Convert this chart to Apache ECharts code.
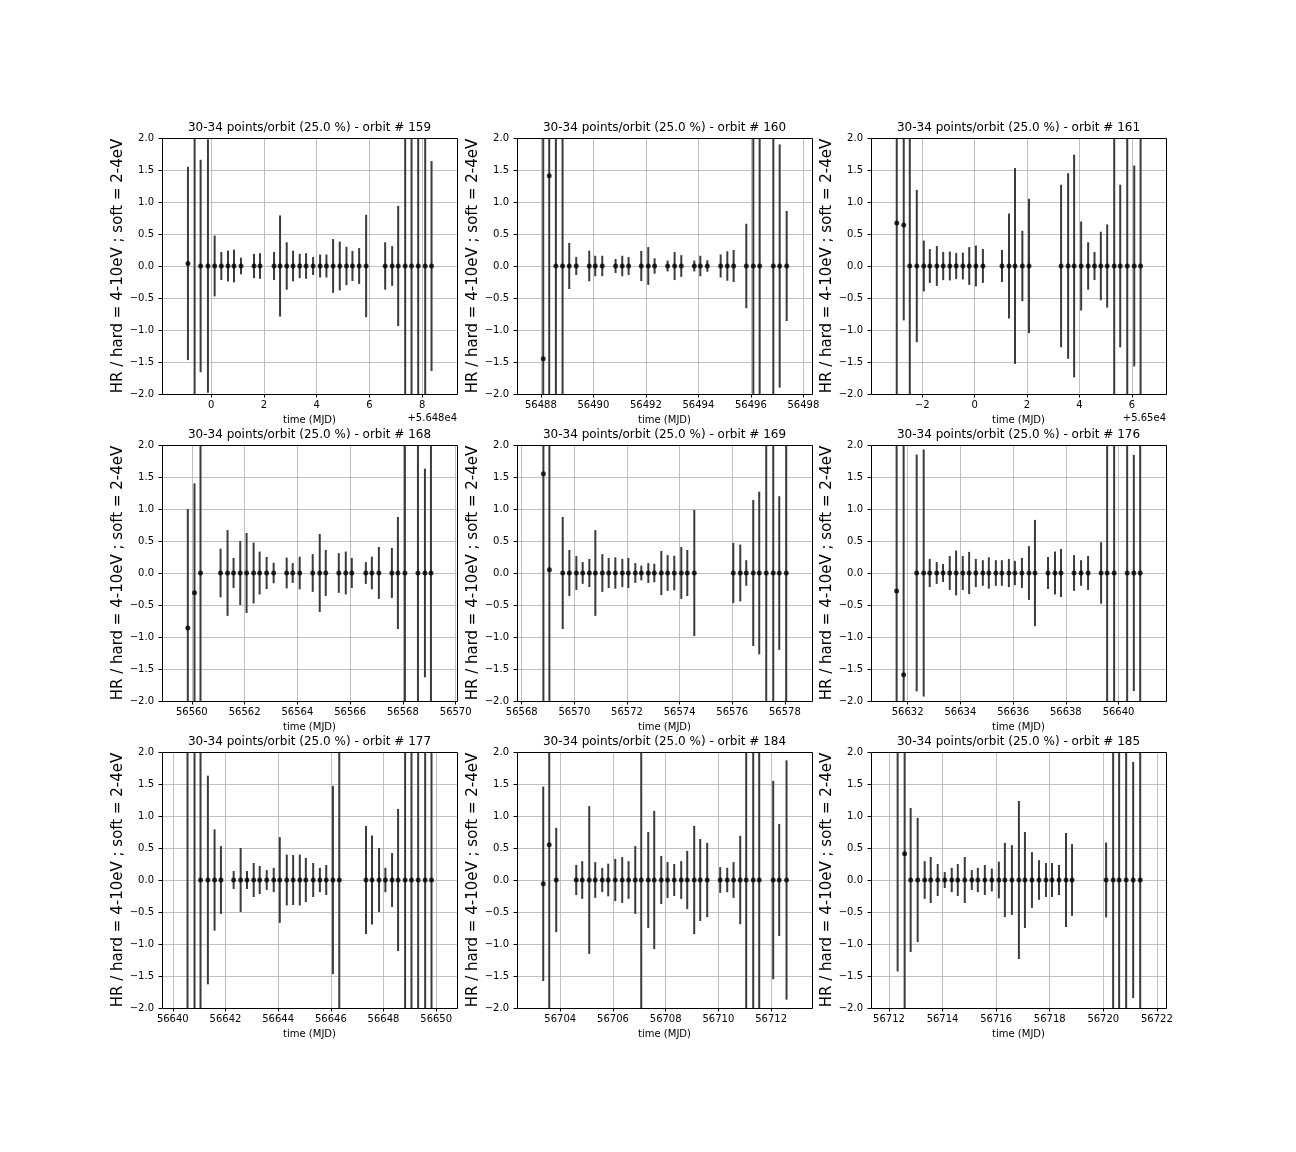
<!DOCTYPE html>
<html lang="en">

<head>
    <meta charset="UTF-8">
    <title>HR per orbit</title>
    <script src="https://cdn.jsdelivr.net/npm/echarts@6/dist/echarts.min.js"></script>
    <style>
        body,
        html {
            padding: 0;
            margin: 0;
            background: #fff;
        }

        #chart-panel {
            width: 1296px;
            height: 1152px;
        }
    </style>
</head>

<body>
    <div id="chart-panel"></div>
    <script>
        // orbits shown, one panel each
        var orbits = [159, 160, 161, 168, 169, 176, 177, 184, 185];

        var time159 = [56479.114, 56479.367, 56479.595, 56479.873, 56480.127, 56480.380, 56480.633, 56480.861, 56481.127, 56481.620, 56481.848, 56482.380, 56482.608, 56482.861, 56483.101, 56483.354, 56483.595, 56483.861, 56484.127, 56484.367, 56484.620, 56484.873, 56485.127, 56485.354, 56485.608, 56485.873, 56486.595, 56486.861, 56487.089, 56487.354, 56487.595, 56487.848, 56488.114, 56488.354];
        var hr159 = [0.04, 2.5, 0, 0, 0, 0, 0, 0, 0, 0, 0, 0, 0, 0, 0, 0, 0, 0, 0, 0, 0, 0, 0, 0, 0, 0, 0, 0, 0, 0, 0, 0, 0, 0];
        var err159 = [1.51, 4.8, 1.66, 1.98, 0.475, 0.22, 0.24, 0.255, 0.13, 0.19, 0.2, 0.22, 0.79, 0.37, 0.24, 0.19, 0.2, 0.14, 0.18, 0.18, 0.42, 0.38, 0.3, 0.235, 0.28, 0.8, 0.37, 0.31, 0.94, 2.6, 2.6, 2.6, 2.6, 1.64];

        var time160 = [56488.089, 56488.318, 56488.572, 56488.826, 56489.080, 56489.347, 56489.842, 56490.071, 56490.338, 56490.846, 56491.100, 56491.342, 56491.825, 56492.091, 56492.333, 56492.828, 56493.095, 56493.349, 56493.845, 56494.074, 56494.341, 56494.849, 56495.103, 56495.344, 56495.827, 56496.094, 56496.336, 56496.856, 56497.098, 56497.365];
        var hr160 = [-1.45, 1.41, 0, 0, 0, 0, 0, 0, 0, 0, 0, 0, 0, 0, 0, 0, 0, 0, 0, 0, 0, 0, 0, 0, 0, 0, 0, 0, 0, 0];
        var err160 = [3.6, 3.6, 2.6, 2.6, 0.36, 0.14, 0.24, 0.16, 0.16, 0.11, 0.16, 0.14, 0.235, 0.295, 0.12, 0.085, 0.22, 0.17, 0.085, 0.16, 0.09, 0.18, 0.23, 0.25, 0.66, 2.6, 2.6, 2.6, 1.9, 0.86];

        var time161 = [56497.032, 56497.299, 56497.529, 56497.796, 56498.064, 56498.293, 56498.561, 56498.803, 56499.057, 56499.299, 56499.554, 56499.796, 56500.051, 56500.318, 56501.045, 56501.312, 56501.541, 56501.822, 56502.076, 56503.299, 56503.567, 56503.796, 56504.064, 56504.331, 56504.573, 56504.815, 56505.057, 56505.325, 56505.554, 56505.822, 56506.089, 56506.331];
        var hr161 = [0.67, 0.64, 0, 0, 0, 0, 0, 0, 0, 0, 0, 0, 0, 0, 0, 0, 0, 0, 0, 0, 0, 0, 0, 0, 0, 0, 0, 0, 0, 0, 0, 0];
        var err161 = [2.9, 1.49, 2.6, 1.19, 0.397, 0.265, 0.31, 0.22, 0.225, 0.205, 0.21, 0.295, 0.32, 0.265, 0.25, 0.82, 1.53, 0.55, 1.05, 1.27, 1.45, 1.74, 0.695, 0.37, 0.22, 0.535, 0.65, 2.6, 1.27, 2.6, 1.57, 2.6];

        var time168 = [56559.848, 56560.101, 56560.329, 56561.089, 56561.354, 56561.582, 56561.835, 56562.076, 56562.342, 56562.570, 56562.835, 56563.101, 56563.595, 56563.823, 56564.089, 56564.582, 56564.848, 56565.076, 56565.570, 56565.835, 56566.063, 56566.595, 56566.823, 56567.089, 56567.582, 56567.810, 56568.076, 56568.570, 56568.835, 56569.063];
        var hr168 = [-0.86, -0.31, 0, 0, 0, 0, 0, 0, 0, 0, 0, 0, 0, 0, 0, 0, 0, 0, 0, 0, 0, 0, 0, 0, 0, 0, 0, 0, 0, 0];
        var err168 = [1.86, 1.71, 2.6, 0.38, 0.67, 0.235, 0.5, 0.625, 0.475, 0.335, 0.25, 0.16, 0.24, 0.155, 0.255, 0.295, 0.61, 0.36, 0.31, 0.335, 0.235, 0.17, 0.255, 0.405, 0.39, 0.875, 2.6, 2.6, 1.63, 2.6];

        var time169 = [56568.823, 56569.051, 56569.557, 56569.810, 56570.076, 56570.316, 56570.570, 56570.797, 56571.063, 56571.304, 56571.557, 56571.823, 56572.051, 56572.316, 56572.544, 56572.810, 56573.038, 56573.304, 56573.544, 56573.797, 56574.063, 56574.291, 56574.557, 56576.038, 56576.304, 56576.532, 56576.797, 56577.025, 56577.291, 56577.557, 56577.785, 56578.051];
        var hr169 = [1.55, 0.05, 0, 0, 0, 0, 0, 0, 0, 0, 0, 0, 0, 0, 0, 0, 0, 0, 0, 0, 0, 0, 0, 0, 0, 0, 0, 0, 0, 0, 0, 0];
        var err169 = [3.7, 2.6, 0.875, 0.36, 0.265, 0.17, 0.22, 0.67, 0.295, 0.235, 0.245, 0.22, 0.235, 0.155, 0.115, 0.155, 0.145, 0.345, 0.28, 0.27, 0.405, 0.36, 0.985, 0.47, 0.444, 0.2, 1.14, 1.27, 2.6, 2.6, 1.2, 2.6];

        var time176 = [56631.582, 56631.848, 56632.342, 56632.608, 56632.837, 56633.103, 56633.343, 56633.597, 56633.838, 56634.091, 56634.332, 56634.586, 56634.852, 56635.080, 56635.346, 56635.574, 56635.840, 56636.068, 56636.335, 56636.601, 56636.829, 56637.323, 56637.589, 56637.817, 56638.312, 56638.578, 56638.844, 56639.338, 56639.567, 56639.833, 56640.327, 56640.580, 56640.821];
        var hr176 = [-0.28, -1.59, 0, 0, 0, 0, 0, 0, 0, 0, 0, 0, 0, 0, 0, 0, 0, 0, 0, 0, 0, 0, 0, 0, 0, 0, 0, 0, 0, 0, 0, 0, 0];
        var err176 = [2.5, 3.8, 1.85, 1.93, 0.22, 0.17, 0.14, 0.265, 0.35, 0.265, 0.33, 0.22, 0.2, 0.245, 0.2, 0.2, 0.22, 0.19, 0.235, 0.42, 0.83, 0.25, 0.335, 0.375, 0.28, 0.2, 0.265, 0.48, 2.6, 2.6, 2.6, 1.845, 2.6];

        var time177 = [56640.558, 56640.825, 56641.053, 56641.332, 56641.586, 56641.827, 56642.310, 56642.576, 56642.817, 56643.071, 56643.299, 56643.566, 56643.832, 56644.061, 56644.327, 56644.569, 56644.822, 56645.051, 56645.330, 56645.584, 56645.825, 56646.079, 56646.320, 56647.335, 56647.563, 56647.830, 56648.071, 56648.325, 56648.553, 56648.820, 56649.061, 56649.315, 56649.581, 56649.822];
        var hr177 = [2.3, -2.3, 0, 0, 0, 0, 0, 0, 0, 0, 0, 0, 0, 0, 0, 0, 0, 0, 0, 0, 0, 0, 0, 0, 0, 0, 0, 0, 0, 0, 0, 0, 0, 0];
        var err177 = [4.6, 4.6, 2.6, 1.63, 0.79, 0.53, 0.14, 0.5, 0.14, 0.265, 0.22, 0.155, 0.19, 0.67, 0.397, 0.39, 0.397, 0.345, 0.265, 0.19, 0.235, 1.47, 2.6, 0.845, 0.695, 0.5, 0.19, 0.42, 1.11, 2.6, 2.6, 2.6, 2.6, 2.6];

        var time184 = [56703.355, 56703.583, 56703.848, 56704.607, 56704.834, 56705.100, 56705.327, 56705.593, 56705.820, 56706.086, 56706.351, 56706.592, 56706.845, 56707.072, 56707.338, 56707.565, 56707.831, 56708.071, 56708.324, 56708.589, 56708.817, 56709.082, 56709.310, 56709.575, 56710.068, 56710.334, 56710.574, 56710.827, 56711.054, 56711.320, 56711.547, 56712.078, 56712.306, 56712.584];
        var hr184 = [-0.06, 0.55, 0, 0, 0, 0, 0, 0, 0, 0, 0, 0, 0, 0, 0, 0, 0, 0, 0, 0, 0, 0, 0, 0, 0, 0, 0, 0, 0, 0, 0, 0, 0, 0];
        var err184 = [1.52, 2.8, 0.815, 0.235, 0.295, 1.155, 0.28, 0.19, 0.255, 0.33, 0.36, 0.295, 0.53, 2.6, 0.75, 1.08, 0.375, 0.28, 0.25, 0.295, 0.455, 0.845, 0.64, 0.58, 0.2, 0.19, 0.28, 0.69, 2.6, 2.6, 2.6, 1.55, 0.875, 1.87];

        var time185 = [56712.324, 56712.586, 56712.810, 56713.072, 56713.334, 56713.559, 56713.820, 56714.082, 56714.344, 56714.569, 56714.830, 56715.092, 56715.317, 56715.579, 56715.840, 56716.102, 56716.327, 56716.589, 56716.850, 56717.075, 56717.337, 56717.599, 56717.860, 56718.085, 56718.347, 56718.608, 56718.833, 56720.105, 56720.367, 56720.591, 56720.853, 56721.115, 56721.377];
        var hr185 = [2.15, 0.41, 0, 0, 0, 0, 0, 0, 0, 0, 0, 0, 0, 0, 0, 0, 0, 0, 0, 0, 0, 0, 0, 0, 0, 0, 0, 0, 0, 0, 0, 0, 0];
        var err185 = [3.58, 2.6, 1.125, 0.97, 0.295, 0.36, 0.25, 0.125, 0.19, 0.25, 0.36, 0.155, 0.19, 0.235, 0.178, 0.287, 0.58, 0.545, 1.235, 0.75, 0.435, 0.31, 0.265, 0.265, 0.235, 0.735, 0.56, 0.585, 2.6, 2.6, 2.6, 1.845, 2.6];

        var times = [time159, time160, time161, time168, time169, time176, time177, time184, time185];
        var hrs = [hr159, hr160, hr161, hr168, hr169, hr176, hr177, hr184, hr185];
        var errs = [err159, err160, err161, err168, err169, err176, err177, err184, err185];

        // x limits of each panel (MJD)
        var xMins = [56478.13, 56487.09, 56496.05, 56558.87, 56567.82, 56630.61, 56639.59, 56702.36, 56711.33];
        var xMaxs = [56489.32, 56498.33, 56507.30, 56570.05, 56579.03, 56641.80, 56650.79, 56713.55, 56722.34];
        // x tick values of each panel
        var xTicks = [
            [56480, 56482, 56484, 56486, 56488],
            [56488, 56490, 56492, 56494, 56496, 56498],
            [56498, 56500, 56502, 56504, 56506],
            [56560, 56562, 56564, 56566, 56568, 56570],
            [56568, 56570, 56572, 56574, 56576, 56578],
            [56632, 56634, 56636, 56638, 56640],
            [56640, 56642, 56644, 56646, 56648, 56650],
            [56704, 56706, 56708, 56710, 56712],
            [56712, 56714, 56716, 56718, 56720, 56722]
        ];
        // matplotlib offset notation used on two panels
        var xOffsets = [56480, 0, 56500, 0, 0, 0, 0, 0, 0];
        var offsetLabels = ['+5.648e4', '', '+5.65e4', '', '', '', '', '', ''];

        var yTicks = [-2, -1.5, -1, -0.5, 0, 0.5, 1, 1.5, 2];

        // layout
        var colLeft = [162, 517, 871];
        var rowTop = [138, 445, 752];
        var plotW = 295, plotH = 256;
        var font = 'DejaVu Sans';

        function minus(s) {
            return String(s).replace('-', '\u2212');
        }

        function renderErr(params, api) {
            var x = api.value(0), y = api.value(1), e = api.value(2);
            var p1 = api.coord([x, y - e]);
            var p2 = api.coord([x, y + e]);
            return {
                type: 'line',
                shape: { x1: p1[0], y1: p1[1], x2: p2[0], y2: p2[1] },
                style: { stroke: '#3b3b3b', lineWidth: 2 }
            };
        }

        var titles = [], grids = [], xAxes = [], yAxes = [], series = [], graphics = [];

        orbits.forEach(function (orb, i) {
            var left = colLeft[i % 3], top = rowTop[Math.floor(i / 3)];
            var off = xOffsets[i];

            titles.push({
                text: '30-34 points/orbit (25.0 %) - orbit # ' + orb,
                left: left + plotW / 2,
                top: top - 16,
                textAlign: 'center',
                padding: 0,
                textStyle: { fontSize: 12, fontWeight: 'normal', color: '#000', fontFamily: font }
            });

            grids.push({ left: left, top: top, width: plotW, height: plotH });

            xAxes.push({
                type: 'value',
                gridIndex: i,
                min: xMins[i],
                max: xMaxs[i],
                name: 'time (MJD)',
                nameLocation: 'middle',
                nameGap: 21,
                nameTextStyle: { fontSize: 10, color: '#000', fontFamily: font },
                axisLine: { show: false, onZero: false },
                axisTick: {
                    show: true, length: 3.5, customValues: xTicks[i],
                    lineStyle: { color: '#000', width: 1 }
                },
                axisLabel: {
                    fontSize: 10, color: '#000', fontFamily: font, margin: 6,
                    customValues: xTicks[i],
                    formatter: function (v) {
                        return minus(Math.round((v - off) * 1000) / 1000);
                    }
                },
                splitLine: { show: true, lineStyle: { color: '#b0b0b0', width: 0.8 } }
            });

            yAxes.push({
                type: 'value',
                gridIndex: i,
                min: yTicks[0],
                max: yTicks[yTicks.length - 1],
                interval: 0.5,
                name: 'HR / hard = 4-10eV ; soft = 2-4eV',
                nameLocation: 'middle',
                nameRotate: 90,
                nameGap: 36,
                nameTextStyle: { fontSize: 15, color: '#000', fontFamily: font },
                axisLine: { show: false, onZero: false },
                axisTick: { show: true, length: 3.5, lineStyle: { color: '#000', width: 1 } },
                axisLabel: {
                    fontSize: 10, color: '#000', fontFamily: font, margin: 8,
                    formatter: function (v) { return minus(v.toFixed(1)); }
                },
                splitLine: { show: true, lineStyle: { color: '#b0b0b0', width: 0.8 } }
            });

            var pts = times[i].map(function (t, k) { return [t, hrs[i][k], errs[i][k]]; });

            series.push({
                type: 'custom',
                xAxisIndex: i,
                yAxisIndex: i,
                clip: true,
                z: 2,
                silent: true,
                renderItem: renderErr,
                encode: { x: 0, y: 1 },
                data: pts
            });
            series.push({
                type: 'scatter',
                xAxisIndex: i,
                yAxisIndex: i,
                z: 3,
                silent: true,
                symbol: 'circle',
                symbolSize: 5,
                itemStyle: { color: '#000' },
                data: pts.map(function (p) { return [p[0], p[1]]; })
            });

            // axes frame
            graphics.push({
                type: 'rect',
                z: 100,
                silent: true,
                shape: { x: left + 0.5, y: top + 0.5, width: plotW, height: plotH },
                style: { fill: 'none', stroke: '#000', lineWidth: 1 }
            });

            if (offsetLabels[i]) {
                graphics.push({
                    type: 'text',
                    z: 100,
                    silent: true,
                    x: left + plotW,
                    y: top + plotH + 24,
                    style: {
                        text: offsetLabels[i], fontSize: 10, fontFamily: font, fill: '#000',
                        textAlign: 'right', textVerticalAlign: 'middle'
                    }
                });
            }
        });

        var option = {
            backgroundColor: '#fff',
            animation: false,
            title: titles,
            grid: grids,
            xAxis: xAxes,
            yAxis: yAxes,
            series: series,
            graphic: { elements: graphics }
        };

        var chartVM = echarts.init(document.getElementById('chart-panel'));
        chartVM.setOption(option);
    </script>
</body>

</html>
